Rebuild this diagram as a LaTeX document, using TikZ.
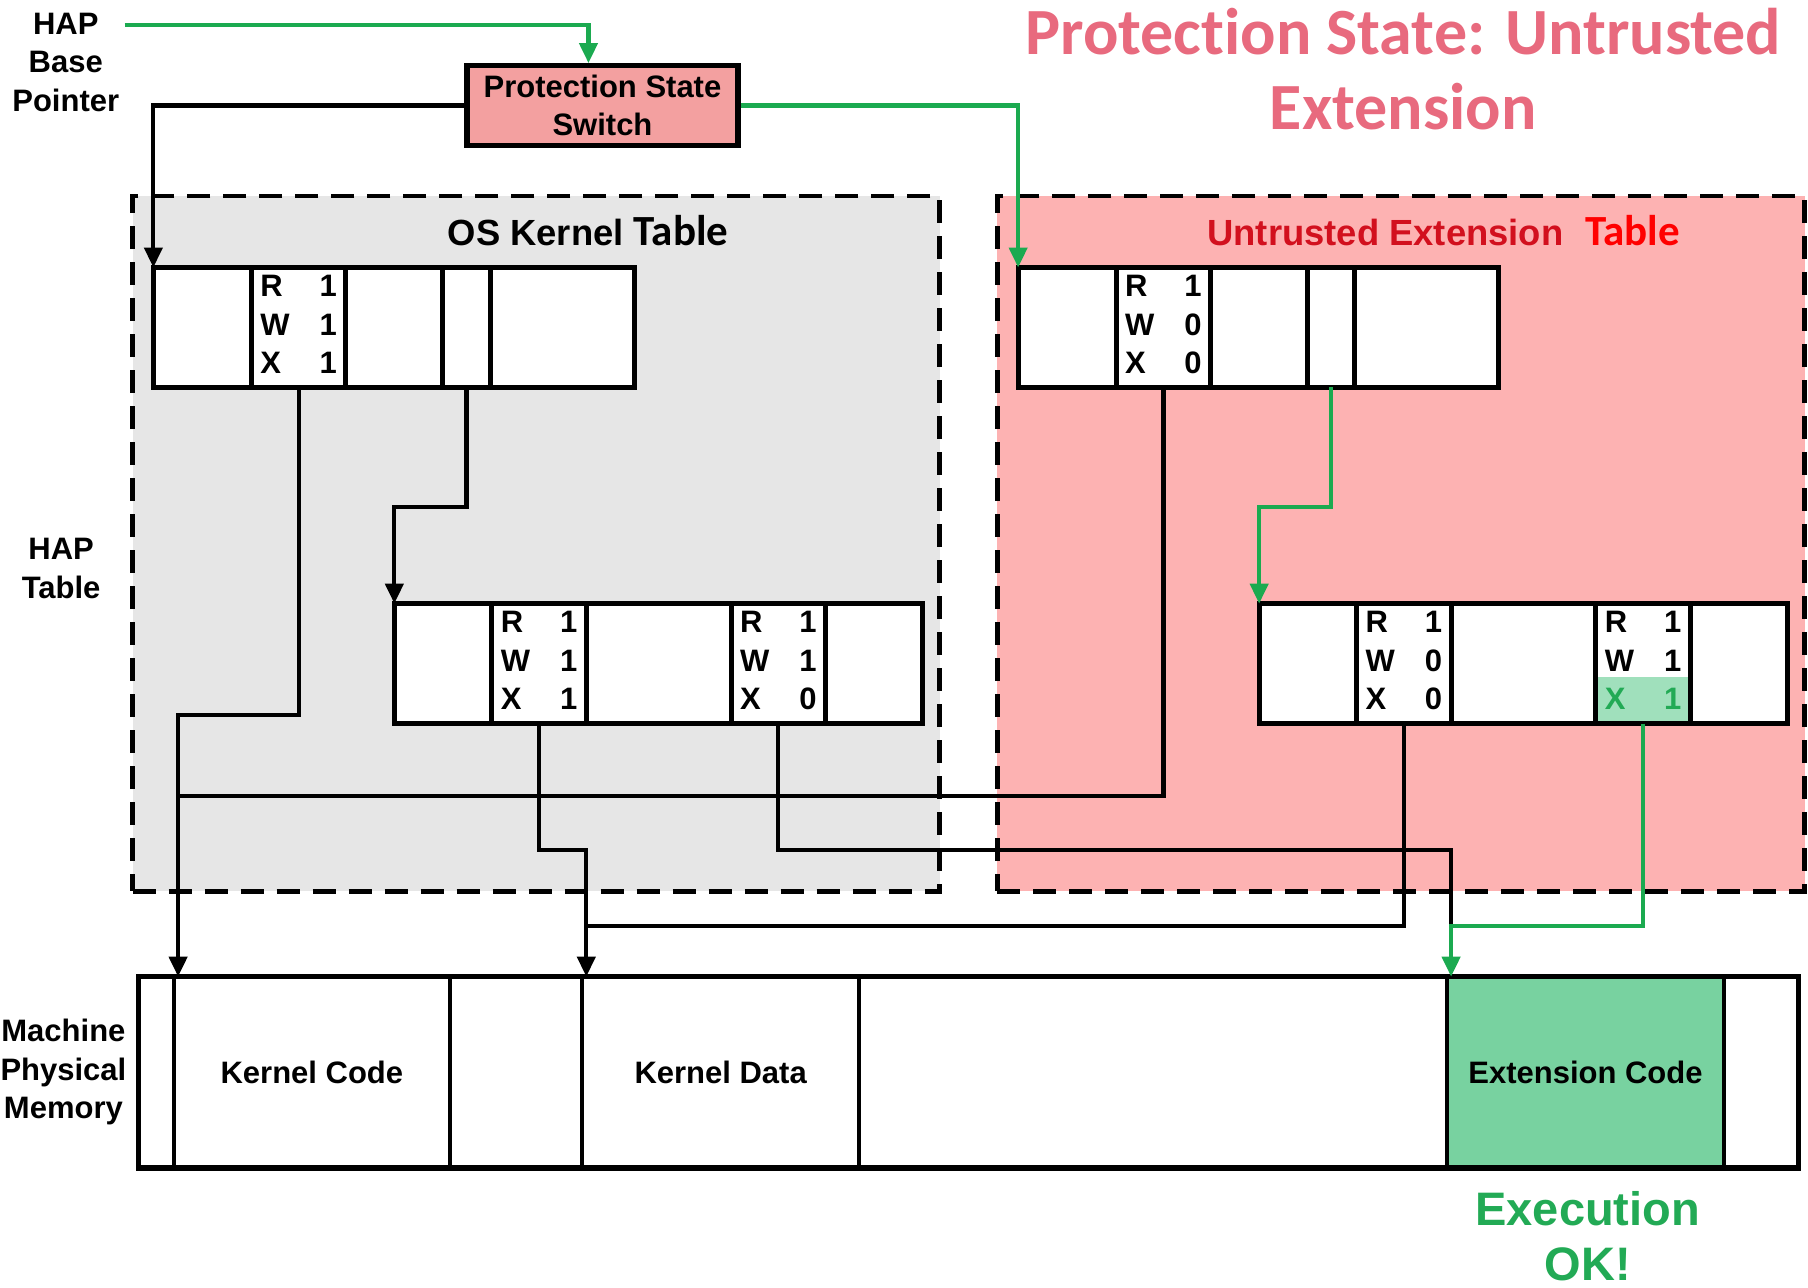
\documentclass[tikz,border=0pt]{standalone}
\usepackage{fontspec}
\setmainfont{Liberation Sans}
\newfontfamily\carlito[Ligatures=NoCommon]{Carlito}
\usetikzlibrary{positioning,arrows.meta}

\definecolor{hapgreen}{RGB}{27,170,80}
\definecolor{pssred}{RGB}{243,160,160}
\definecolor{uepink}{RGB}{253,178,178}
\definecolor{osgray}{RGB}{230,230,230}
\definecolor{extgreen}{RGB}{120,210,160}
\definecolor{xhl}{RGB}{160,224,188}
\definecolor{titlepink}{RGB}{232,106,126}
\definecolor{uered}{RGB}{210,16,30}
\definecolor{okgreen}{RGB}{34,170,85}

\newcommand{\pxu}{0.5766pt}
\newcommand{\lblfont}{\fontsize{15.5}{19.3}\selectfont\bfseries}
\newcommand{\rwx}[3]{\begin{tabular}{@{}l@{\hspace{15pt}}r@{}}R&#1\\W&#2\\X&#3\end{tabular}}

\begin{document}
\begin{tikzpicture}[
  x=0.5766pt, y=-0.5766pt,
  region/.style={draw, line width=2.3pt, dash pattern=on 11.5pt off 6.5pt,
                 inner sep=0pt, outer sep=0pt, minimum height=603*\pxu, minimum width=700*\pxu},
  cell/.style={draw, fill=white, line width=2.5pt, inner sep=0pt, outer sep=0pt,
               minimum width=#1*\pxu, minimum height=104*\pxu, font=\lblfont},
  mcell/.style={draw, fill=white, line width=1.9pt, inner sep=0pt, outer sep=0pt,
                minimum width=#1*\pxu, minimum height=166*\pxu, font=\lblfont},
  label/.style={font=\lblfont, align=center},
  arrow/.style={-{Triangle[length=10pt,width=9pt]}, line width=2.1pt},
  garrow/.style={arrow, draw=hapgreen, -{Triangle[length=10pt,width=9pt,fill=hapgreen]}},
  link/.style={line width=2.1pt}
]
  \useasboundingbox (0,0) rectangle (1568,1117);

  % protection domains
  \node[region, fill=osgray] (oskreg) at (465,471.5) {};
  \node[region, fill=uepink] (uereg) at (1215,471.5) {};
  \node[font=\fontsize{18.2}{22}\selectfont] (osklbl) at (510,200)
    {\bfseries OS Kernel {\carlito\fontsize{21.5}{22}\selectfont Table}};
  \node[font=\fontsize{18.2}{22}\selectfont] (uelbl) at (1252,200)
    {\textcolor{uered}{\bfseries Untrusted Extension}\hspace{11pt}{\carlito\bfseries\color{red}\fontsize{21.5}{22}\selectfont Table}};

  \node[font=\carlito\bfseries\fontsize{33}{37.5}\selectfont, text=titlepink, align=center] (title)
    at (1217,60) {Protection State: Untrusted\\Extension};

  % labels on the left
  \node[label] (hbp) at (57,54) {HAP\\Base\\Pointer};
  \node[label] (hapt) at (53,493) {HAP\\Table};
  \node[label] (mpm) at (55,930) {Machine\\Physical\\Memory};

  \node[draw, fill=pssred, line width=2.6pt, label, minimum width=235*\pxu, minimum height=69*\pxu,
        inner sep=0pt] (pss) at (522.5,91.5) {Protection State\\Switch};

  % first level tables
  \node[cell=85] (k1a) at (175.5,284) {};
  \node[cell=82, right=0pt of k1a] (k1b) {\rwx{1}{1}{1}};
  \node[cell=84, right=0pt of k1b] (k1c) {};
  \node[cell=41, right=0pt of k1c] (k1d) {};
  \node[cell=125, right=0pt of k1d] (k1e) {};

  \node[cell=85] (u1a) at (925.5,284) {};
  \node[cell=82, right=0pt of u1a] (u1b) {\rwx{1}{0}{0}};
  \node[cell=84, right=0pt of u1b] (u1c) {};
  \node[cell=41, right=0pt of u1c] (u1d) {};
  \node[cell=125, right=0pt of u1d] (u1e) {};

  % second level tables
  \node[cell=84] (k2a) at (384,575.5) {};
  \node[cell=83, right=0pt of k2a] (k2b) {\rwx{1}{1}{1}};
  \node[cell=125, right=0pt of k2b] (k2c) {};
  \node[cell=82, right=0pt of k2c] (k2d) {\rwx{1}{1}{0}};
  \node[cell=84, right=0pt of k2d] (k2e) {};

  \node[cell=84] (u2a) at (1134,575.5) {};
  \node[cell=83, right=0pt of u2a] (u2b) {\rwx{1}{0}{0}};
  \node[cell=125, right=0pt of u2b] (u2c) {};
  \node[cell=82, right=0pt of u2c,
        path picture={\fill[xhl] ([yshift=-6.6pt]path picture bounding box.west)
                      rectangle (path picture bounding box.south east);}] (u2d)
    {\begin{tabular}{@{}l@{\hspace{15pt}}r@{}}R&1\\W&1\\\color{okgreen}X&\color{okgreen}1\end{tabular}};
  \node[cell=84, right=0pt of u2d] (u2e) {};

  % machine physical memory
  \node[mcell=31] (mlo) at (135.5,930) {};
  \node[mcell=239, right=0pt of mlo] (mkc) {Kernel Code};
  \node[mcell=115, right=0pt of mkc] (mgap) {};
  \node[mcell=240, right=0pt of mgap] (mkd) {Kernel Data};
  \node[mcell=510, right=0pt of mkd] (mfree) {};
  \node[mcell=240, right=0pt of mfree, fill=extgreen] (mec) {Extension Code};
  \node[mcell=65, right=0pt of mec] (mhi) {};
  \draw[line width=2.7pt] (mlo.north west) rectangle (mhi.south east);

  \node[font=\fontsize{23.5}{27.7}\selectfont\bfseries, text=okgreen, align=center, inner sep=0pt] (exok)
    at (1377,1072) {Execution\\OK!};

  \coordinate (hbpout) at (108,22);
  \coordinate (kcin) at ([xshift=2pt]mkc.north west);
  \coordinate (kdin) at ([xshift=2pt]mkd.north west);
  \coordinate (ecin) at ([xshift=2pt]mec.north west);

  % pointers
  \draw[garrow] (hbpout) -| ([xshift=-7pt]pss.north);
  \draw[arrow] (pss.west) -| (k1a.north west);
  \draw[garrow] (pss.east) -| (u1a.north west);
  \draw[arrow] (k1b.south) |- (kcin |- 0,620) -- (kcin);
  \draw[arrow] (k1d.south) -- (k1d.south |- 0,440) -| (k2a.north west);
  \draw[link] (u1b.south) |- (kcin |- 0,690);
  \draw[garrow] (u1d.south) -- (u1d.south |- 0,440) -| (u2a.north west);
  \draw[arrow] (k2b.south) -- (k2b.south |- 0,737) -| (kdin);
  \draw[link] (k2d.south) |- (ecin |- 0,737) -- (ecin |- 0,803);
  \draw[link] (u2b.south) |- (kdin |- 0,803);
  \draw[garrow] (u2d.south) |- (ecin |- 0,803) -- (ecin);
\end{tikzpicture}
\end{document}
